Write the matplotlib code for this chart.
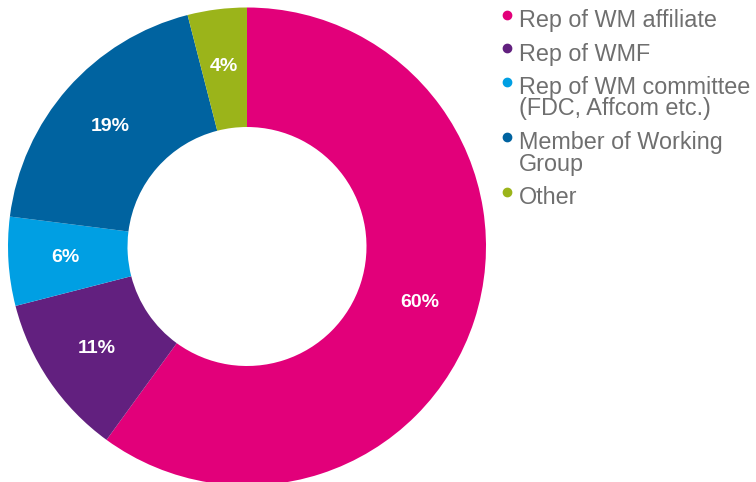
import matplotlib
matplotlib.use("Agg")
import matplotlib.pyplot as plt
from matplotlib.lines import Line2D

# Data
labels = ["Rep of WM affiliate", "Rep of WMF", "Rep of WM committee\n(FDC, Affcom etc.)",
          "Member of Working\nGroup", "Other"]
values = [60, 11, 6, 19, 4]
colors = ["#E2007A", "#62207F", "#009FE3", "#0063A0", "#9BB41A"]

W, H = 756, 482
fig = plt.figure(figsize=(W / 100, H / 100), dpi=100)
plt.rcParams['font.family'] = ['Liberation Sans', 'DejaVu Sans']

# donut: centre (247, 246.5) px, radius 239 px
cx, cy, r = 247, 246.5, 239
ax = fig.add_axes([(cx - r) / W, (H - cy - r) / H, 2 * r / W, 2 * r / H])
wedges, texts, autotexts = ax.pie(values, colors=colors, startangle=90, counterclock=False,
                                  radius=1, autopct='%.0f%%', pctdistance=0.76,
                                  wedgeprops=dict(width=0.5, linewidth=0))
for t in autotexts:
    t.set_color("white")
    t.set_fontsize(14)
    t.set_fontweight("bold")
ax.set_xlim(-1, 1)
ax.set_ylim(-1, 1)
ax.set_aspect("equal")
ax.axis("off")

# legend drawn by hand, pixel positions from the top
text_x, dot_x = 519, 507
line_pitch, item_gap = 21.5, 33.5
y = 27  # baseline of first line
for lab, col in zip(labels, colors):
    fig.add_artist(Line2D([dot_x / W], [(H - (y - 12.5)) / H], marker='o', markersize=6,
                          color=col, linestyle='none', transform=fig.transFigure))
    lines = lab.split("\n")
    for i, ln in enumerate(lines):
        fig.text(text_x / W, (H - (y + i * line_pitch)) / H, ln, fontsize=16.8,
                 color="#6f6f6f", va="baseline", ha="left")
    y += item_gap + line_pitch * (len(lines) - 1)

fig.savefig("out.png", dpi=100)
